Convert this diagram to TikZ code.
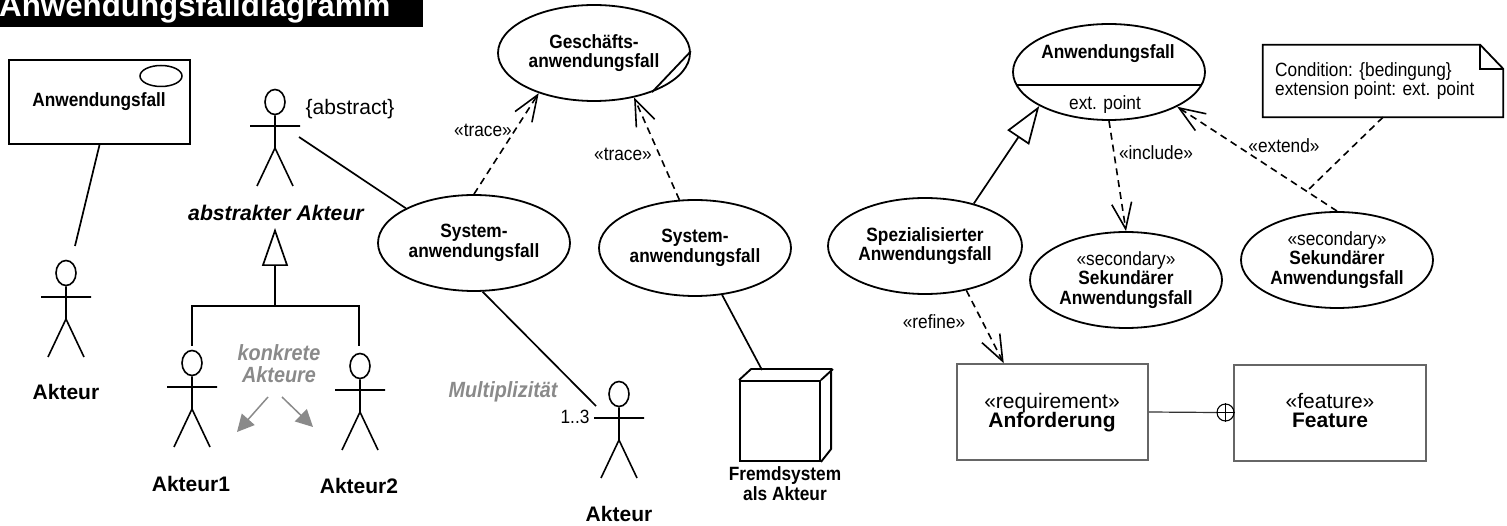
\documentclass[tikz,border=0pt]{standalone}
\usepackage{fontspec}
\setmainfont{Liberation Sans}
\newfontfamily\narrowf[FakeStretch=0.9]{Liberation Sans}
\usetikzlibrary{arrows.meta,shapes.geometric}
\definecolor{softgrey}{HTML}{8A8A8A}
\definecolor{boxgrey}{HTML}{666666}
\tikzset{
  lab/.style={inner sep=0pt,align=center,font=\narrowf\fontsize{19.2}{19.8}\selectfont},
  blab/.style={inner sep=0pt,align=center,font=\narrowf\fontsize{19.2}{19.8}\selectfont\bfseries},
  alab/.style={inner sep=0pt,align=center,font=\fontsize{21}{20}\selectfont\bfseries},
  rlab/.style={inner sep=0pt,align=center,font=\fontsize{21}{20}\selectfont},
  hint/.style={inner sep=0pt,align=center,text=softgrey,font=\narrowf\fontsize{22}{22}\selectfont\bfseries\itshape},
  usecase/.style={draw,ellipse,line width=1.8pt,minimum width=192pt,minimum height=96pt,inner sep=0pt,align=center,font=\narrowf\fontsize{19.2}{19.8}\selectfont},
  assoc/.style={line width=1.7pt},
  dep/.style={line width=1.6pt,dash pattern=on 7pt off 5pt,-{Straight Barb[length=26pt,width=20pt]}},
  gen/.style={line width=1.7pt,-{Triangle[open,length=38pt,width=26pt,fill=white]}},
  hintarrow/.style={softgrey,line width=1.5pt,-{Triangle[length=17pt,width=17pt]}},
  block/.style={draw=boxgrey,line width=1.5pt,inner sep=0pt,align=center},
  actor/.pic={
    \node[draw,ellipse,line width=1.6pt,minimum width=20pt,minimum height=25pt,inner sep=0pt] (-head) at (0,0) {};
    \draw[line width=1.6pt] (-head.south) -- (0,46) -- (-18,84) (0,46) -- (18,84) (-25,24) -- (25,24);
  }
}
\begin{document}
\begin{tikzpicture}[x=1pt,y=-1pt]
\useasboundingbox (0,0) rectangle (1507,526);
% title
\fill[black] (0,0) rectangle (423,27);
\node[inner sep=0pt,anchor=base west,text=white,font=\fontsize{31.3}{32}\selectfont\bfseries] (title) at (-1,17) {Anwendungsfalldiagramm};
% use case as classifier
\node[draw,line width=1.9pt,minimum width=181pt,minimum height=84pt,inner sep=0pt] (ucbox) at (99.5,102) {};
\node[draw,ellipse,line width=1.5pt,minimum width=42pt,minimum height=21pt,inner sep=0pt] (ucicon) at (161,76) {};
\node[blab] (ucboxt) at (99,102) {Anwendungsfall};
% actors
\pic (a0) at (66,273) {actor};
\pic (aa) at (275,102) {actor};
\pic (a1) at (192,363) {actor};
\pic (a2) at (360,366) {actor};
\pic (a3) at (619,394) {actor};
\node[alab] (a0l) at (66,392) {Akteur};
\node[alab] (a1l) at (191,484) {Akteur1};
\node[alab] (a2l) at (359,486) {Akteur2};
\node[alab] (a3l) at (619,514) {Akteur};
\node[rlab] (absc) at (350,109) {\{abstract\}};
\node[inner sep=0pt,font=\fontsize{21.2}{22}\selectfont\bfseries\itshape] (aal) at (276,213) {abstrakter Akteur};
\node[hint] (konk) at (279,364) {konkrete\\Akteure};
\node[hint] (mult) at (503,392) {Multiplizität};
\node[lab] (m13) at (575,417) {1..3};
% use cases
\node[usecase] (ges) at (594,53) {\bfseries Geschäfts-\\\bfseries anwendungsfall};
\node[usecase] (sys1) at (474,243) {\bfseries System-\\\bfseries anwendungsfall};
\node[usecase] (sys2) at (695,248) {\bfseries System-\\\bfseries anwendungsfall};
\node[usecase] (uc) at (1109,72) {};
\node[blab] (uct) at (1108,54) {Anwendungsfall};
\node[lab] (ucp) at (1105,105) {ext. point};
\node[usecase,minimum width=194pt] (spec) at (925,246) {\bfseries Spezialisierter\\\bfseries Anwendungsfall};
\node[usecase] (sec1) at (1126,280) {«secondary»\\\bfseries Sekundärer\\\bfseries Anwendungsfall};
\node[usecase] (sec2) at (1337,260) {«secondary»\\\bfseries Sekundärer\\\bfseries Anwendungsfall};
\draw[line width=1.8pt] (ges.1.8) -- (ges.-34.9);
\draw[line width=1.9pt] (uc.188) -- (uc.-8);
% external system
\node[draw,line width=1.9pt,minimum width=80pt,minimum height=80pt,inner sep=0pt] (ext) at (780,421) {};
\draw[line width=1.9pt] (ext.north west) -- ++(12,-11) -- ++(80,0) -- ++(0,80) -- (ext.south east) (ext.north east) -- ++(12,-11);
\node[blab] (extl) at (785,484) {Fremdsystem\\als Akteur};
% requirement, feature
\node[block,minimum width=191pt,minimum height=96pt] (req) at (1052.5,412) {};
\node[rlab,anchor=base] (reqa) at (1052,408) {«requirement»};
\node[alab,anchor=base] (reqb) at (1052,427) {Anforderung};
\node[block,minimum width=192pt,minimum height=96pt] (feat) at (1330,413) {};
\node[rlab,anchor=base] (feata) at (1330,408) {«feature»};
\node[alab,anchor=base] (featb) at (1330,428) {Feature};
\node[draw,circle,line width=1.1pt,minimum size=17pt,inner sep=0pt] (cont) at (1225.5,412.5) {};
\draw[line width=1.1pt] (cont.north) -- (cont.south) (cont.west) -- (cont.east);
\draw[line width=1.2pt,draw=black!80] (req.east) -- (cont.west);
% note
\node[inner sep=0pt,minimum width=240pt,minimum height=72pt] (note) at (1383,81) {};
\draw[line width=1.8pt] (note.north west) -- ([xshift=-23pt]note.north east) -- ([yshift=-24pt]note.north east) -- (note.south east) -- (note.south west) -- cycle;
\draw[line width=1.8pt] ([xshift=-23pt]note.north east) -- ([xshift=-23pt,yshift=-24pt]note.north east) -- ([yshift=-24pt]note.north east);
\node[lab,anchor=west,align=left] (notet) at (1275,81) {Condition: \{bedingung\}\\extension point: ext. point};
% free connector ends
\coordinate (c0a) at (75,246);
\coordinate (caa) at (299,137);
\coordinate (c3) at (596,406);
\coordinate (cext) at (762,370);
\coordinate (apex) at (275,228);
\coordinate (tj) at (275,306);
\coordinate (t1) at (192,346);
\coordinate (t2) at (359,346);
\coordinate (jn) at (1306,192);
\coordinate (k1) at (268,397);
\coordinate (k1e) at (237,432);
\coordinate (k2) at (282,397);
\coordinate (k2e) at (313,427);
% associations
\draw[assoc] (ucbox.south) -- (c0a);
\draw[assoc] (caa) -- (sys1.153.1);
\draw[assoc] (sys1.280.6) -- (c3);
\draw[assoc] (sys2.-60.1) -- (cext);
% generalisation
\draw[line width=1.7pt] (t1) -- (t1 |- tj) -- (t2 |- tj) -- (t2);
\draw[gen] (tj) -- (apex);
\draw[gen] (spec.41.9) -- (uc.206.9);
% dependencies
\draw[dep] (sys1.north) -- (ges.216);
\draw[dep] (sys2.108.4) -- (ges.312.4);
\draw[dep] (spec.-47.6) -- (req.135);
\draw[dep] (uc.south) -- (sec1.north);
\draw[dep] (sec2.north) -- (uc.-27.2);
\draw[line width=1.6pt,dash pattern=on 7pt off 5pt] (note.south) -- (jn);
% hints
\draw[hintarrow] (k1) -- (k1e);
\draw[hintarrow] (k2) -- (k2e);
% stereotypes
\node[lab] (tr1) at (483,130) {«trace»};
\node[lab] (tr2) at (623,154) {«trace»};
\node[lab] (rf) at (934,322) {«refine»};
\node[lab] (inc) at (1156,153) {«include»};
\node[lab] (exd) at (1284,146) {«extend»};
\end{tikzpicture}
\end{document}
